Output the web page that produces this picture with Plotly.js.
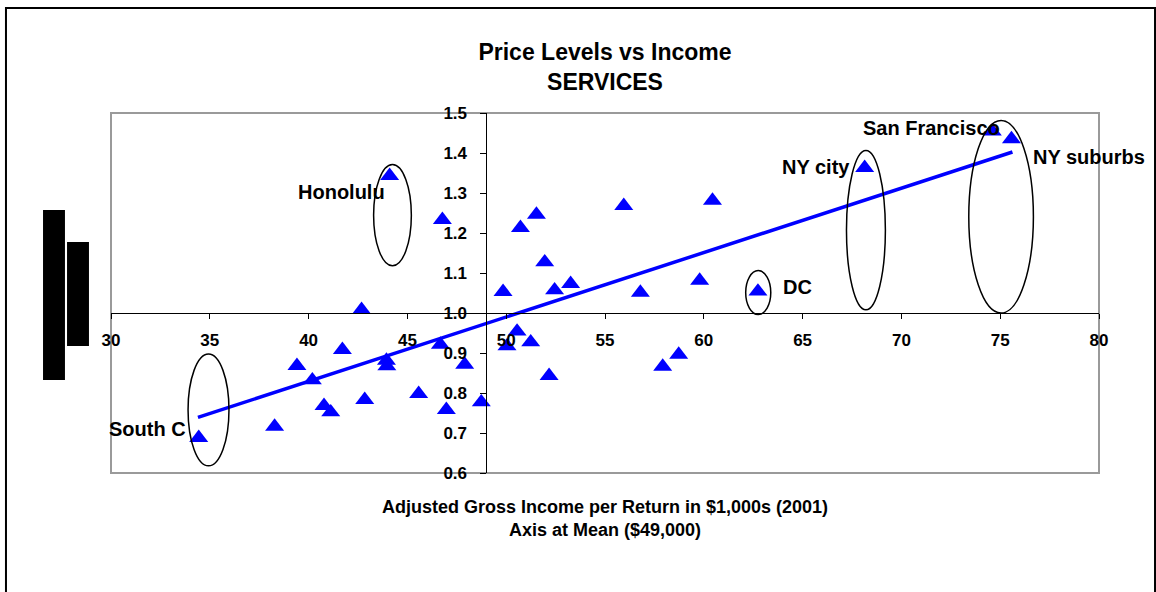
<!DOCTYPE html>
<html>
<head>
<meta charset="utf-8">
<script src="https://cdn.plot.ly/plotly-3.0.1.min.js"></script>
<style>
  html, body { margin: 0; padding: 0; background: #ffffff; }
  #chart { width: 1156px; height: 592px; }
</style>
</head>
<body>
<div id="chart"></div>
<script>
// Income per return ($1,000s, 2001) and services price level
var income = [34.44, 38.28, 39.41, 40.19, 40.78, 41.12, 41.71, 42.68, 42.84, 43.94, 43.96, 44.10,
              45.57, 46.77, 46.67, 46.97, 47.90, 48.74,
              49.84, 50.04, 50.55, 50.72, 51.24, 51.53, 51.95, 52.17, 52.45, 53.26,
              55.95, 56.79, 57.92, 58.73, 59.79, 60.44, 62.74, 68.14, 74.60, 75.57];
var priceLevel = [0.688, 0.716, 0.868, 0.832, 0.768, 0.752, 0.908, 1.008, 0.783, 0.881, 0.867, 1.343,
                  0.798, 1.233, 0.921, 0.758, 0.871, 0.777,
                  1.053, 0.917, 0.954, 1.213, 0.927, 1.246, 1.127, 0.843, 1.057, 1.073,
                  1.268, 1.051, 0.866, 0.896, 1.081, 1.281, 1.054, 1.363, 1.454, 1.435];

// Linear trend line end points
var trendX = [34.40, 75.62];
var trendY = [0.739, 1.4025];

// Tick values
var xTicks = [30, 35, 40, 45, 50, 55, 60, 65, 70, 75, 80];
var yTicks = [0.6, 0.7, 0.8, 0.9, 1.0, 1.1, 1.2, 1.3, 1.4, 1.5];

// Highlighted city labels
var cityLabels = ["Honolulu", "South C", "DC", "NY city", "San Francisco", "NY suburbs"];

var traces = [
  {
    type: 'scatter', mode: 'markers', x: income, y: priceLevel,
    marker: { symbol: 'triangle-up', size: 16.5, color: '#0000FF', line: { width: 0 } },
    hoverinfo: 'x+y', showlegend: false
  },
  {
    type: 'scatter', mode: 'lines', x: trendX, y: trendY,
    line: { color: '#0000FF', width: 3.5 },
    hoverinfo: 'skip', showlegend: false
  }
];

var lblFont = { family: 'Liberation Sans, Arial, sans-serif', size: 20, color: '#000', weight: 'bold' };
function lbl(text, x, y, xanchor) {
  return { text: text, x: x, y: y, xref: 'x', yref: 'y', xanchor: xanchor, yanchor: 'middle',
           showarrow: false, font: lblFont };
}

var annotations = [
  lbl(cityLabels[0], 43.95, 1.303, 'right'),
  lbl(cityLabels[1], 33.88, 0.711, 'right'),
  lbl(cityLabels[2], 63.90, 1.066, 'left'),
  lbl(cityLabels[3], 67.52, 1.366, 'right'),
  lbl(cityLabels[4], 67.95, 1.462, 'left'),
  lbl(cityLabels[5], 76.55, 1.391, 'left')
];

function ell(x0, x1, y0, y1) {
  return { type: 'circle', xref: 'x', yref: 'y', x0: x0, x1: x1, y0: y0, y1: y1,
           line: { color: '#000', width: 1.5 }, layer: 'above' };
}

var shapes = [
  // gray plot-area border
  { type: 'rect', xref: 'paper', yref: 'paper', x0: 0, x1: 1, y0: 0, y1: 1,
    line: { color: '#9a9a9a', width: 2 }, layer: 'below' },
  // outer chart frame
  { type: 'rect', xref: 'paper', yref: 'paper', x0: -0.1063, x1: 1.0567, y0: -0.40, y1: 1.2917,
    line: { color: '#000', width: 2 } },
  // black bars at left
  { type: 'rect', xref: 'paper', yref: 'paper', x0: -0.0688, x1: -0.0466, y0: 0.2583, y1: 0.7306,
    fillcolor: '#000', line: { width: 0 } },
  { type: 'rect', xref: 'paper', yref: 'paper', x0: -0.0445, x1: -0.0223, y0: 0.3528, y1: 0.6417,
    fillcolor: '#000', line: { width: 0 } },
  // ellipses
  ell(43.29, 45.20, 1.118, 1.371),
  ell(33.90, 35.97, 0.618, 0.8975),
  ell(62.12, 63.39, 0.996, 1.106),
  ell(67.22, 69.19, 1.008, 1.4065),
  ell(73.41, 76.68, 1.000, 1.4815)
];

var tickFont = { family: 'Liberation Sans, Arial, sans-serif', size: 17, color: '#000', weight: 'bold' };

var layout = {
  width: 1156, height: 592,
  margin: { l: 111, r: 57, t: 113, b: 119 },
  paper_bgcolor: '#ffffff', plot_bgcolor: '#ffffff',
  showlegend: false,
  title: {
    text: 'Price Levels vs Income<br>SERVICES',
    x: 0.5, xanchor: 'center', xref: 'paper', yref: 'container', y: 0.899, yanchor: 'middle',
    font: { family: 'Liberation Sans, Arial, sans-serif', size: 23, color: '#000', weight: 'bold' }
  },
  xaxis: {
    range: [30, 80], tickvals: xTicks, ticktext: xTicks.map(String),
    anchor: 'free', position: 0.4444,
    showline: true, linecolor: '#000', linewidth: 1,
    ticks: 'outside', ticklen: 5, tickcolor: '#000', tickwidth: 1,
    showgrid: false, zeroline: false, tickfont: tickFont, ticklabelstandoff: 7,
    title: {
      text: 'Adjusted Gross Income per Return in $1,000s (2001)<br>Axis at Mean ($49,000)',
      font: { family: 'Liberation Sans, Arial, sans-serif', size: 18, color: '#000', weight: 'bold' },
      standoff: 150
    }
  },
  yaxis: {
    range: [0.6, 1.5], tickvals: yTicks, ticktext: yTicks.map(function (v) { return v.toFixed(1); }),
    anchor: 'free', position: 0.38,
    showline: true, linecolor: '#000', linewidth: 1,
    ticks: 'outside', ticklen: 6, tickcolor: '#000', tickwidth: 1,
    showgrid: false, zeroline: false, tickfont: tickFont, ticklabelstandoff: 10
  },
  annotations: annotations,
  shapes: shapes
};

Plotly.newPlot('chart', traces, layout, { displayModeBar: false, staticPlot: true });
</script>
</body>
</html>
